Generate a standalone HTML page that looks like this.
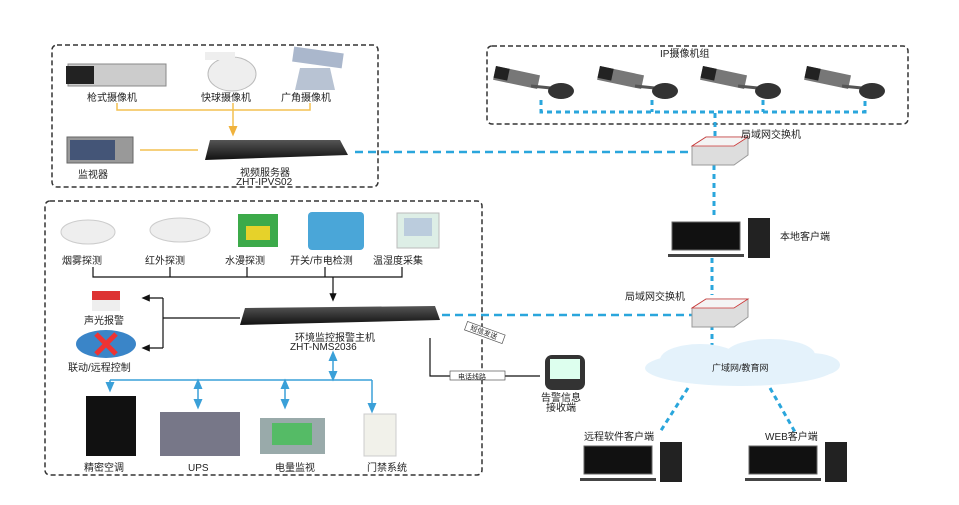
<!DOCTYPE html>
<html><head><meta charset="utf-8"><style>
body{margin:0;background:#fff;}
svg{display:block;font-family:"Liberation Sans","Noto Sans CJK SC",sans-serif;}
text{font-size:10px;fill:#222;}
</style></head><body>
<svg width="959" height="505" viewBox="0 0 959 505">
<defs>
<marker id="ab" markerWidth="8" markerHeight="8" refX="4" refY="4" orient="auto"><path d="M0,1 L7,4 L0,7z" fill="#111"/></marker>
<marker id="ao" markerWidth="8" markerHeight="8" refX="4" refY="4" orient="auto"><path d="M0,1 L7,4 L0,7z" fill="#f0b23c"/></marker>
<marker id="abl" markerWidth="8" markerHeight="8" refX="4" refY="4" orient="auto-start-reverse"><path d="M0,1 L7,4 L0,7z" fill="#3aa0d8"/></marker>
<linearGradient id="dev" x1="0" y1="0" x2="0" y2="1"><stop offset="0" stop-color="#555"/><stop offset="1" stop-color="#111"/></linearGradient>
</defs>
<g fill="none" stroke="#333" stroke-width="1.5" stroke-dasharray="5,3">
<rect x="52" y="45" width="326" height="142" rx="5"/>
<rect x="45" y="201" width="437" height="274" rx="5"/>
<rect x="487" y="46" width="421" height="78" rx="5"/>
</g>
<g fill="none" stroke="#2aa6dc" stroke-width="2.5" stroke-dasharray="8,5">
<line x1="355" y1="152" x2="692" y2="152"/>
<line x1="442" y1="315" x2="692" y2="315"/>
</g>
<g fill="none" stroke="#2aa6dc" stroke-width="3" stroke-dasharray="5,4">
<line x1="715" y1="113" x2="715" y2="138"/>
<line x1="714" y1="165" x2="714" y2="218"/>
<line x1="712" y1="258" x2="712" y2="295"/>
<line x1="712" y1="325" x2="712" y2="350"/>
<line x1="688" y1="388" x2="660" y2="432"/>
<line x1="770" y1="388" x2="795" y2="432"/>
<path d="M541,100 V112 H865 V100 M652,100 V112 M763,100 V112"/>
</g>
<g>
<g transform="translate(496,66)"><rect x="0" y="0" width="45" height="14" fill="#777" transform="rotate(12)"/><rect x="0" y="0" width="14" height="12" fill="#222" transform="rotate(12)"/><line x1="35" y1="20" x2="55" y2="22" stroke="#555" stroke-width="3"/><ellipse cx="65" cy="25" rx="13" ry="8" fill="#333"/></g>
<g transform="translate(600,66)"><rect x="0" y="0" width="45" height="14" fill="#777" transform="rotate(12)"/><rect x="0" y="0" width="14" height="12" fill="#222" transform="rotate(12)"/><line x1="35" y1="20" x2="55" y2="22" stroke="#555" stroke-width="3"/><ellipse cx="65" cy="25" rx="13" ry="8" fill="#333"/></g>
<g transform="translate(703,66)"><rect x="0" y="0" width="45" height="14" fill="#777" transform="rotate(12)"/><rect x="0" y="0" width="14" height="12" fill="#222" transform="rotate(12)"/><line x1="35" y1="20" x2="55" y2="22" stroke="#555" stroke-width="3"/><ellipse cx="65" cy="25" rx="13" ry="8" fill="#333"/></g>
<g transform="translate(807,66)"><rect x="0" y="0" width="45" height="14" fill="#777" transform="rotate(12)"/><rect x="0" y="0" width="14" height="12" fill="#222" transform="rotate(12)"/><line x1="35" y1="20" x2="55" y2="22" stroke="#555" stroke-width="3"/><ellipse cx="65" cy="25" rx="13" ry="8" fill="#333"/></g>
</g>
<text x="660" y="57">IP摄像机组</text>
<g><path d="M692,146 L706,137 L748,137 L748,155 L734,165 L692,165z" fill="#ddd" stroke="#999"/><path d="M692,146 L706,137 L748,137 L734,146z" fill="#f4f4f4" stroke="#c33" stroke-width="0.8"/></g>
<text x="741" y="138">局域网交换机</text>
<g><path d="M692,308 L706,299 L748,299 L748,317 L734,327 L692,327z" fill="#ddd" stroke="#999"/><path d="M692,308 L706,299 L748,299 L734,308z" fill="#f4f4f4" stroke="#c33" stroke-width="0.8"/></g>
<text x="625" y="300">局域网交换机</text>
<g><rect x="672" y="222" width="68" height="28" fill="#111" stroke="#666"/><rect x="668" y="254" width="76" height="3" fill="#444"/><rect x="748" y="218" width="22" height="40" fill="#222"/></g>
<text x="780" y="240">本地客户端</text>
<g transform="translate(-88,224)"><rect x="672" y="222" width="68" height="28" fill="#111" stroke="#666"/><rect x="668" y="254" width="76" height="3" fill="#444"/><rect x="748" y="218" width="22" height="40" fill="#222"/></g>
<g transform="translate(77,224)"><rect x="672" y="222" width="68" height="28" fill="#111" stroke="#666"/><rect x="668" y="254" width="76" height="3" fill="#444"/><rect x="748" y="218" width="22" height="40" fill="#222"/></g>
<text x="584" y="440">远程软件客户端</text>
<text x="765" y="440">WEB客户端</text>
<g fill="#e4f2fb"><ellipse cx="740" cy="368" rx="95" ry="18"/><ellipse cx="700" cy="360" rx="40" ry="16"/><ellipse cx="770" cy="355" rx="45" ry="16"/><ellipse cx="810" cy="365" rx="30" ry="12"/></g>
<text x="712" y="371" style="font-size:9px">广域网/教育网</text>
<rect x="68" y="64" width="98" height="22" fill="#ccc" stroke="#888"/><rect x="66" y="66" width="28" height="18" fill="#222"/>
<ellipse cx="232" cy="74" rx="24" ry="17" fill="#eee" stroke="#bbb"/><rect x="205" y="52" width="30" height="8" fill="#eee"/>
<rect x="293" y="50" width="50" height="15" fill="#aab7cc" transform="rotate(8 318 57)"/><path d="M300,68 h30 l5,22 h-40z" fill="#b8c3d3"/>
<text x="87" y="101">枪式摄像机</text><text x="201" y="101">快球摄像机</text><text x="281" y="101">广角摄像机</text>
<g fill="none" stroke="#f3c150" stroke-width="1.5"><path d="M117,103 V110 H310 V103"/><line x1="233" y1="103" x2="233" y2="132" marker-end="url(#ao)"/><line x1="140" y1="150" x2="198" y2="150"/></g>
<rect x="67" y="137" width="66" height="26" fill="#999" stroke="#666"/><rect x="70" y="140" width="45" height="20" fill="#457"/>
<text x="78" y="178">监视器</text>
<path d="M210,140 L340,140 L348,155 L205,160z" fill="url(#dev)"/>
<text x="240" y="176">视频服务器</text><text x="236" y="185">ZHT-IPVS02</text>
<ellipse cx="88" cy="232" rx="27" ry="12" fill="#eee" stroke="#ccc"/>
<ellipse cx="180" cy="230" rx="30" ry="12" fill="#eee" stroke="#ccc"/>
<rect x="238" y="214" width="40" height="33" fill="#3caa4a"/><rect x="246" y="226" width="24" height="14" fill="#e6d22a"/>
<rect x="308" y="212" width="56" height="38" rx="4" fill="#4aa6d8"/>
<rect x="397" y="213" width="42" height="35" fill="#ddeee6" stroke="#bbb"/><rect x="404" y="218" width="28" height="18" fill="#bcd"/>
<g style="font-size:11px"><text x="62" y="264">烟雾探测</text><text x="145" y="264">红外探测</text><text x="225" y="264">水漫探测</text><text x="290" y="264">开关/市电检测</text><text x="373" y="264">温湿度采集</text></g>
<g fill="none" stroke="#111" stroke-width="1.2"><path d="M93,267 V277 H402 V267 M170,267 V277 M247,267 V277 M325,267 V277"/><line x1="333" y1="277" x2="333" y2="298" marker-end="url(#ab)"/>
<path d="M240,318 H163 M163,298 V348" /><line x1="163" y1="298" x2="145" y2="298" marker-end="url(#ab)"/><line x1="163" y1="348" x2="145" y2="348" marker-end="url(#ab)"/>
<path d="M430,338 V376 H540"/></g>
<path d="M245,308 L435,306 L440,320 L240,325z" fill="url(#dev)"/>
<text x="295" y="341">环境监控报警主机</text><text x="290" y="350">ZHT-NMS2036</text>
<rect x="92" y="291" width="28" height="20" fill="#d33"/><rect x="92" y="300" width="28" height="11" fill="#eee"/>
<text x="84" y="324">声光报警</text>
<ellipse cx="106" cy="344" rx="30" ry="14" fill="#3a85c8"/><path d="M96,334 l20,20 M116,334 l-20,20" stroke="#e33" stroke-width="5"/>
<text x="68" y="371">联动/远程控制</text>
<g fill="none" stroke="#3aa0d8" stroke-width="1.5"><line x1="333" y1="355" x2="333" y2="377" marker-start="url(#abl)" marker-end="url(#abl)"/><path d="M110,380 H372"/><line x1="110" y1="380" x2="110" y2="388" marker-end="url(#abl)"/><line x1="198" y1="383" x2="198" y2="405" marker-start="url(#abl)" marker-end="url(#abl)"/><line x1="285" y1="383" x2="285" y2="405" marker-start="url(#abl)" marker-end="url(#abl)"/><line x1="372" y1="380" x2="372" y2="409" marker-end="url(#abl)"/></g>
<rect x="86" y="396" width="50" height="60" fill="#111"/>
<rect x="160" y="412" width="80" height="44" fill="#778"/>
<rect x="260" y="418" width="65" height="36" fill="#9aa"/><rect x="272" y="423" width="40" height="22" fill="#5b6"/>
<rect x="364" y="414" width="32" height="42" fill="#f1f1ea" stroke="#ccc"/>
<g style="font-size:11px"><text x="84" y="471">精密空调</text><text x="188" y="471">UPS</text><text x="275" y="471">电量监视</text><text x="367" y="471">门禁系统</text></g>
<rect x="450" y="371" width="55" height="9" fill="#fff" stroke="#555" stroke-width="0.7"/><text x="458" y="379" style="font-size:7px">电话线路</text>
<rect x="465" y="328" width="40" height="9" fill="#fff" stroke="#555" stroke-width="0.7" transform="rotate(20 485 332)"/><text x="470" y="335" style="font-size:7px" transform="rotate(20 485 332)">短信发送</text>
<rect x="545" y="355" width="40" height="35" rx="7" fill="#333"/><rect x="550" y="359" width="30" height="20" fill="#dfe"/>
<text x="541" y="401">告警信息</text><text x="546" y="411">接收端</text>
</svg>
</body></html>
